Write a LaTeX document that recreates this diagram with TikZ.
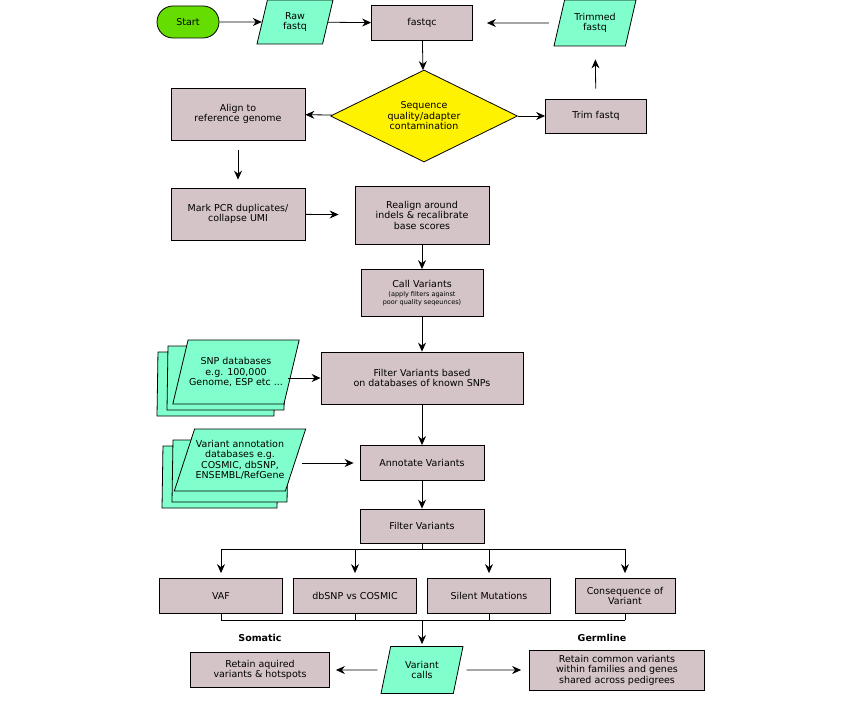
\documentclass[tikz,border=0pt]{standalone}
\usepackage{fontspec}
\setmainfont{DejaVu Sans}
\usetikzlibrary{shapes.geometric,arrows.meta}
\definecolor{boxgrey}{RGB}{212,196,200}
\definecolor{datacyan}{RGB}{128,255,204}
\definecolor{startgreen}{RGB}{102,221,0}
\tikzset{
  box/.style={draw,thick,fill=boxgrey,align=center,inner sep=1pt,font=\fontsize{9.5}{10.5}\selectfont},
  data/.style={draw,thick,fill=datacyan,trapezium,trapezium left angle=64,trapezium right angle=116,
    trapezium stretches body,align=center,inner sep=1pt,font=\fontsize{9.5}{10.5}\selectfont},
  arr/.style={thick,-{Stealth[length=9pt,width=8pt,inset=3pt]}},
  link/.style={thick}
}
\begin{document}
\begin{tikzpicture}[x=1pt,y=-1pt]
  \useasboundingbox (0,0) rectangle (850,703);
  % top row
  \node[draw,thick,fill=startgreen,rounded corners=16pt,minimum width=62pt,minimum height=32pt,
    font=\fontsize{9.5}{10.5}\selectfont] (start) at (188,22) {Start};
  \node[data,minimum width=76pt,minimum height=44pt] (raw) at (295,22) {Raw\\fastq};
  \node[box,minimum width=101pt,minimum height=35pt] (fastqc) at (422,23) {fastqc};
  \node[data,minimum width=82pt,minimum height=46pt] (trimmed) at (595,23) {Trimmed\\fastq};
  \node[draw,thick,fill=yellow,diamond,aspect=2.05,inner sep=0pt,minimum width=187pt,minimum height=92pt,
    align=center,font=\fontsize{9.5}{10.5}\selectfont] (seq) at (424,116)
    {Sequence\\quality/adapter\\contamination};
  \node[box,minimum width=134pt,minimum height=52pt] (align) at (238,114) {Align to\\reference genome};
  \node[box,minimum width=101pt,minimum height=34pt] (trim) at (596,116) {Trim fastq};
  % alignment steps
  \node[box,minimum width=134pt,minimum height=52pt] (mark) at (238,214) {Mark PCR duplicates/\\collapse UMI};
  \node[box,minimum width=134pt,minimum height=58pt] (realign) at (422,215)
    {Realign around\\indels \& recalibrate\\base scores};
  \node[box,minimum width=122pt,minimum height=47pt] (call) at (422,293)
    {Call Variants\\[-1pt]{\fontsize{6.5}{7.5}\selectfont (apply filters against}\\[-3pt]{\fontsize{6.5}{7.5}\selectfont poor quality seqeunces)}};
  % databases
  \node[data,minimum width=118pt,minimum height=64pt] (snpC) at (216,384) {};
  \node[data,minimum width=118pt,minimum height=64pt] (snpB) at (226,378) {};
  \node[data,minimum width=118pt,minimum height=64pt] (snp) at (236,372)
    {SNP databases\\e.g. 100,000\\Genome, ESP etc ...};
  \node[box,minimum width=202pt,minimum height=52pt] (filterdb) at (422,378)
    {Filter Variants based\\on databases of known SNPs};
  \node[data,minimum width=116pt,minimum height=62pt] (annotC) at (220,477) {};
  \node[data,minimum width=116pt,minimum height=62pt] (annotB) at (230,471) {};
  \node[data,minimum width=116pt,minimum height=62pt] (annotdb) at (240,460)
    {Variant annotation\\databases e.g.\\COSMIC, dbSNP,\\ENSEMBL/RefGene};
  \node[box,minimum width=124pt,minimum height=35pt] (annotate) at (422,463) {Annotate Variants};
  \node[box,minimum width=124pt,minimum height=34pt] (filter) at (422,526) {Filter Variants};
  % categories
  \node[box,minimum width=123pt,minimum height=35pt] (vaf) at (221,596) {VAF};
  \node[box,minimum width=123pt,minimum height=35pt] (dbsnp) at (355,596) {dbSNP vs COSMIC};
  \node[box,minimum width=123pt,minimum height=35pt] (silent) at (489,596) {Silent Mutations};
  \node[box,minimum width=100pt,minimum height=35pt] (conseq) at (625,596) {Consequence of\\Variant};
  % outcome
  \node[font=\bfseries\fontsize{9.5}{10.5}\selectfont] (somatic) at (260,638) {Somatic};
  \node[font=\bfseries\fontsize{9.5}{10.5}\selectfont] (germline) at (602,638) {Germline};
  \node[data,minimum width=82pt,minimum height=47pt] (calls) at (422,670) {Variant\\calls};
  \node[box,minimum width=139pt,minimum height=35pt] (somret) at (260,670)
    {Retain aquired\\variants \& hotspots};
  \node[box,minimum width=175pt,minimum height=40pt] (germret) at (617,670)
    {Retain common variants\\within families and genes\\shared across pedigrees};
  % connectors
  \draw[arr] (start) -- (raw);
  \draw[arr] (raw) -- (fastqc);
  \draw[arr] (fastqc) -- (seq);
  \draw[arr] (seq) -- (align);
  \draw[arr] (seq) -- (trim);
  \draw[arr,shorten <=10pt,shorten >=13pt] (trim) -- (trimmed);
  \draw[arr,shorten <=10pt,shorten >=14pt] (trimmed) -- (fastqc);
  \draw[arr,shorten <=10pt,shorten >=8pt] (align) -- (mark);
  \draw[arr,shorten >=16pt] (mark) -- (realign);
  \draw[arr] (realign) -- (call);
  \draw[arr] (call) -- (filterdb);
  \draw[arr,shorten <=-4pt] (snp.east |- filterdb) -- (filterdb);
  \draw[arr] (filterdb) -- (annotate);
  \draw[arr,shorten <=6pt,shorten >=6pt] (annotdb.east |- annotate) -- (annotate);
  \draw[arr] (annotate) -- (filter);
  \coordinate (split) at (422,549);
  \coordinate (merge) at (422,620);
  \draw[link] (filter) -- (split);
  \draw[link] (vaf |- split) -- (conseq |- split);
  \foreach \n in {vaf,dbsnp,silent,conseq}{
    \draw[arr,shorten >=5pt] (\n |- split) -- (\n);
    \draw[link] (\n) -- (\n |- merge);
  }
  \draw[link] (vaf |- merge) -- (conseq |- merge);
  \draw[arr,shorten >=2pt] (merge) -- (calls);
  \draw[arr,shorten <=8pt,shorten >=6pt] (calls) -- (somret);
  \draw[arr,shorten <=8pt,shorten >=8pt] (calls) -- (germret);
\end{tikzpicture}
\end{document}
